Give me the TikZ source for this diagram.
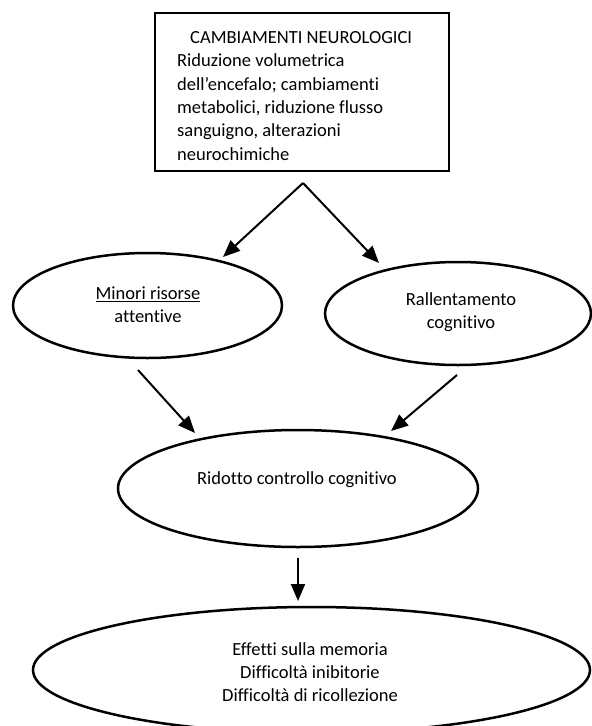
\documentclass[tikz,border=0pt]{standalone}
\usepackage{fontspec}
\setmainfont{Carlito}[Ligatures={NoCommon,NoRare,NoContextual}]
\usetikzlibrary{shapes.geometric,arrows.meta}
\begin{document}
\begin{tikzpicture}[x=1pt,y=-1pt,
  txt/.style={font=\fontsize{18.5}{23.3}\selectfont, inner sep=0pt, align=center},
  oval/.style={draw, ellipse, line width=2.5pt, inner sep=0pt},
  arr/.style={line width=2pt, -{Triangle[length=17pt,width=14pt]}}]
\useasboundingbox (0,0) rectangle (592,726);
\begin{scope}
\clip (0,0) rectangle (592,726);
% top box
\node[draw, line width=2pt, minimum width=294pt, minimum height=158pt, inner sep=0pt] (box) at (302,92) {};
\node[txt, align=left, anchor=west] (boxtext) at (177,96) {\hspace{13pt}CAMBIAMENTI NEUROLOGICI\\Riduzione volumetrica\\dell’encefalo; cambiamenti\\metabolici, riduzione flusso\\sanguigno, alterazioni\\neurochimiche};
% ellipses
\node[oval, minimum width=269pt, minimum height=105pt] (left) at (147.5,305.5) {};
\node[oval, minimum width=266pt, minimum height=103pt] (right) at (458,313.5) {};
\node[oval, minimum width=360pt, minimum height=117pt] (mid) at (298,488.5) {};
\node[oval, minimum width=557pt, minimum height=126pt] (bot) at (311.5,670) {};
% texts
\node[txt] (lefttext) at (148,305) {\underline{Minori risorse}\\attentive};
\node[txt] (righttext) at (461,312) {Rallentamento\\cognitivo};
\node[txt] (midtext) at (297,480) {Ridotto controllo cognitivo};
\node[txt] (bottext) at (310,672) {Effetti sulla memoria\\Difficoltà inibitorie\\Difficoltà di ricollezione};
% connector end points
\coordinate (apex) at (303,183);
\coordinate (t1) at (223,257);
\coordinate (t2) at (379,263);
\coordinate (s3) at (138,370);
\coordinate (t3) at (195,433);
\coordinate (s4) at (457,375);
\coordinate (t4) at (391,431);
\coordinate (s5) at (298,558);
\coordinate (t5) at (298,601);
\draw[arr] (apex) -- (t1);
\draw[arr] (apex) -- (t2);
\draw[arr] (s3) -- (t3);
\draw[arr] (s4) -- (t4);
\draw[arr] (s5) -- (t5);
\end{scope}
\end{tikzpicture}
\end{document}
